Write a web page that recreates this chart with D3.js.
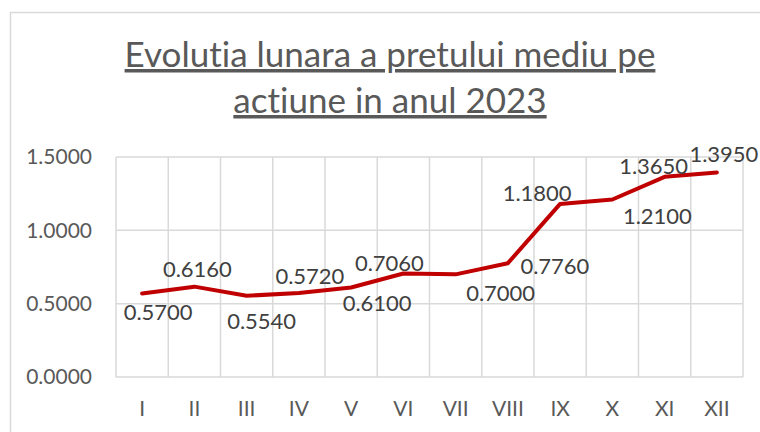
<!DOCTYPE html>
<html>
<head>
<meta charset="utf-8">
<script src="https://cdn.jsdelivr.net/npm/d3@7"></script>
<style>
    body { margin: 0; background: #fff; }
    svg { display: block; font-family: Lato, "Open Sans", sans-serif; font-variant-ligatures: none; }
</style>
</head>
<body>
<svg id="chart"></svg>
<script>
// chart data
var months = ["I", "II", "III", "IV", "V", "VI", "VII", "VIII", "IX", "X", "XI", "XII"];
var prices = [0.5700, 0.6160, 0.5540, 0.5720, 0.6100, 0.7060, 0.7000, 0.7760, 1.1800, 1.2100, 1.3650, 1.3950];
var yTicks = [0, 0.5, 1.0, 1.5];
var titleLines = ["Evolutia lunara a pretului mediu pe", "actiune in anul 2023"];

// where each value label sits relative to its point (dx, dy of label centre)
var labelOffsets = [
    [16, 19], [3, -17], [15, 26], [11, -17], [26, 16], [-14, -10],
    [45, 19], [47, 3], [-23, -11], [45, 17], [-11, -11], [7, -18]
];

var W = 760, H = 432;
var margin = { top: 157, right: 17, bottom: 55, left: 116 },
    width = W - margin.left - margin.right,
    height = H - margin.top - margin.bottom;

var svg = d3.select("#chart")
    .attr("width", W)
    .attr("height", H);

// chart area border
svg.append("rect")
    .attr("x", 10.5)
    .attr("y", 12.5)
    .attr("width", W)
    .attr("height", H)
    .attr("fill", "none")
    .attr("stroke", "#d9d9d9")
    .attr("stroke-width", 1.5);

// title
var title = svg.append("text")
    .attr("text-anchor", "middle")
    .attr("fill", "#595959")
    .style("font-size", "35px")
    .style("text-decoration", "underline");
title.selectAll("tspan")
    .data(titleLines)
    .enter().append("tspan")
    .attr("x", 390)
    .attr("y", function (d, i) { return 67 + i * 46; })
    .text(function (d) { return d; });

var g = svg.append("g")
    .attr("transform", "translate(" + margin.left + "," + margin.top + ")");

var x = d3.scaleBand().domain(months).range([0, width]);
var y = d3.scaleLinear().domain([0, 1.5]).range([height, 0]);

// vertical gridlines at category boundaries
var bounds = months.map(function (d) { return x(d); }).concat([width]);
g.selectAll(".vgrid")
    .data(bounds)
    .enter().append("line")
    .attr("x1", function (d) { return d; })
    .attr("x2", function (d) { return d; })
    .attr("y1", 0)
    .attr("y2", height)
    .attr("stroke", "#d9d9d9")
    .attr("stroke-width", 1.5);

// horizontal gridlines
g.selectAll(".hgrid")
    .data(yTicks)
    .enter().append("line")
    .attr("x1", 0)
    .attr("x2", width)
    .attr("y1", function (d) { return y(d); })
    .attr("y2", function (d) { return y(d); })
    .attr("stroke", "#d9d9d9")
    .attr("stroke-width", 1.5);

// y axis
var yAxis = g.append("g")
    .call(d3.axisLeft(y).tickValues(yTicks).tickFormat(d3.format(".4f")).tickSize(0).tickPadding(24));
yAxis.select(".domain").remove();
yAxis.selectAll("text")
    .attr("fill", "#595959")
    .style("font-family", "Lato, sans-serif")
    .style("font-size", "21px");

// x axis
var xAxis = g.append("g")
    .attr("transform", "translate(0," + height + ")")
    .call(d3.axisBottom(x).tickSize(0).tickPadding(24));
xAxis.select(".domain").remove();
xAxis.selectAll("text")
    .attr("fill", "#595959")
    .style("font-family", "Lato, sans-serif")
    .style("font-size", "21px");

// price line
var line = d3.line()
    .x(function (d, i) { return x(months[i]) + x.bandwidth() / 2; })
    .y(function (d) { return y(d); });

g.append("path")
    .datum(prices)
    .attr("d", line)
    .attr("fill", "none")
    .attr("stroke", "#c00000")
    .attr("stroke-width", 4)
    .attr("stroke-linejoin", "round")
    .attr("stroke-linecap", "round");

// value labels
g.selectAll(".label")
    .data(prices)
    .enter().append("text")
    .attr("class", "label")
    .attr("x", function (d, i) { return x(months[i]) + x.bandwidth() / 2 + labelOffsets[i][0]; })
    .attr("y", function (d, i) { return y(d) + labelOffsets[i][1]; })
    .attr("dy", "0.35em")
    .attr("text-anchor", "middle")
    .attr("fill", "#404040")
    .style("font-size", "22px")
    .text(function (d) { return d3.format(".4f")(d); });
</script>
</body>
</html>
